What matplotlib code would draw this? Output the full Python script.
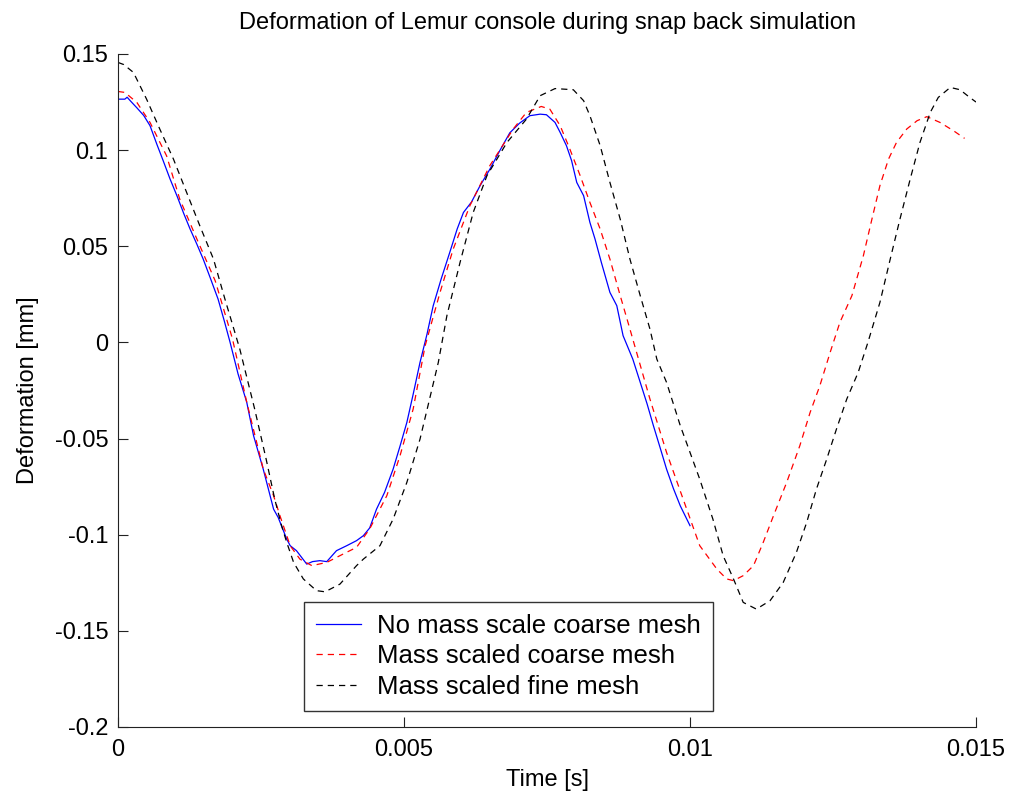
import matplotlib
matplotlib.use("Agg")
import matplotlib.pyplot as plt
from matplotlib.ticker import FixedLocator, FixedFormatter

# Deformation histories (time in s, deformation in mm)
t_nomass = [0.0, 0.00012, 0.00016, 0.00022, 0.00033, 0.00045, 0.00056, 0.00068, 0.00079, 0.00091,
            0.00103, 0.00115, 0.00126, 0.00138, 0.00149, 0.00162, 0.00175, 0.00186, 0.00196,
            0.00210, 0.00225, 0.00237, 0.00254, 0.00272, 0.00280, 0.00295, 0.00301, 0.00312,
            0.00330, 0.00340, 0.00353, 0.00365, 0.00382, 0.00400, 0.00417, 0.00429, 0.00440,
            0.00452, 0.00466, 0.00481, 0.00493, 0.00505, 0.00516, 0.00528, 0.00540, 0.00551,
            0.00565, 0.00580, 0.00593, 0.00604, 0.00618, 0.00633, 0.00650, 0.00668, 0.00685,
            0.00702, 0.00720, 0.00738, 0.00749, 0.00764, 0.00773, 0.00784, 0.00793, 0.00802,
            0.00814, 0.00825, 0.00834, 0.00845, 0.00860, 0.00872, 0.00883, 0.00900, 0.00913,
            0.00925, 0.00936, 0.00948, 0.00959, 0.00971, 0.00983, 0.01000]
v_nomass = [0.1265, 0.1265, 0.1275, 0.1255, 0.1220, 0.1180, 0.1127, 0.1030, 0.0945, 0.0850,
            0.0763, 0.0670, 0.0590, 0.0510, 0.0433, 0.0330, 0.0225, 0.0110, 0.0000,
            -0.0165, -0.0310, -0.0485, -0.0660, -0.0867, -0.0910, -0.1023, -0.1057, -0.1083,
            -0.1153, -0.1140, -0.1135, -0.1140, -0.1083, -0.1057, -0.1031, -0.1005, -0.0965,
            -0.0867, -0.0780, -0.0659, -0.0540, -0.0416, -0.0270, -0.0104, 0.0040, 0.0190,
            0.0330, 0.0468, 0.0590, 0.0676, 0.0730, 0.0815, 0.0900, 0.1000, 0.1090,
            0.1140, 0.1179, 0.1187, 0.1184, 0.1144, 0.1092, 0.1023, 0.0945, 0.0832,
            0.0763, 0.0624, 0.0537, 0.0416, 0.0260, 0.0191, 0.0035, -0.0087, -0.0208,
            -0.0320, -0.0433, -0.0550, -0.0659, -0.0760, -0.0850, -0.0953]

t_coarse = [0.0, 0.00012, 0.00033, 0.00056, 0.00085, 0.00108, 0.00138, 0.00170, 0.00200,
            0.00225, 0.00254, 0.00272, 0.00283, 0.00301, 0.00318, 0.00339, 0.00365, 0.00394,
            0.00417, 0.00440, 0.00470, 0.00493, 0.00516, 0.00537, 0.00563, 0.00586, 0.00615,
            0.00650, 0.00691, 0.00714, 0.00740, 0.00755, 0.00773, 0.00790, 0.00808, 0.00825,
            0.00843, 0.00860, 0.00878, 0.00895, 0.00910, 0.00930, 0.00959, 0.00988, 0.01017,
            0.01047, 0.01064, 0.01076, 0.01093, 0.01111, 0.01128, 0.01146, 0.01169, 0.01192,
            0.01210, 0.01227, 0.01245, 0.01262, 0.01283, 0.01303, 0.01318, 0.01332, 0.01347,
            0.01361, 0.01379, 0.01397, 0.01414, 0.01437, 0.01461, 0.01480]
v_coarse = [0.1305, 0.1300, 0.1248, 0.1144, 0.0970, 0.0745, 0.0537, 0.0320, 0.0020,
            -0.0310, -0.0659, -0.0797, -0.0900, -0.1057, -0.1127, -0.1161, -0.1144, -0.1100,
            -0.1066, -0.0970, -0.0797, -0.0590, -0.0347, -0.0017, 0.0260, 0.0485, 0.0710,
            0.0919, 0.1110, 0.1196, 0.1227, 0.1213, 0.1127, 0.1005, 0.0867, 0.0728,
            0.0589, 0.0433, 0.0243, 0.0069, -0.0087, -0.0295, -0.0572, -0.0815, -0.1057,
            -0.1179, -0.1230, -0.1239, -0.1213, -0.1161, -0.1040, -0.0901, -0.0728, -0.0537,
            -0.0364, -0.0225, -0.0052, 0.0104, 0.0243, 0.0450, 0.0641, 0.0815, 0.0953,
            0.1040, 0.1110, 0.1153, 0.1174, 0.1144, 0.1100, 0.1061]

t_fine = [0.0, 0.00010, 0.00027, 0.00050, 0.00073, 0.00097, 0.00120, 0.00143, 0.00167,
          0.00187, 0.00213, 0.00239, 0.00259, 0.00274, 0.00286, 0.00295, 0.00307, 0.00324,
          0.00347, 0.00362, 0.00388, 0.00417, 0.00429, 0.00458, 0.00481, 0.00505, 0.00528,
          0.00560, 0.00575, 0.00598, 0.00621, 0.00645, 0.00680, 0.00714, 0.00738, 0.00764,
          0.00796, 0.00814, 0.00825, 0.00843, 0.00860, 0.00878, 0.00895, 0.00913, 0.00930,
          0.00942, 0.00959, 0.00983, 0.01017, 0.01040, 0.01058, 0.01076, 0.01093, 0.01116,
          0.01140, 0.01163, 0.01186, 0.01204, 0.01221, 0.01239, 0.01256, 0.01274, 0.01294,
          0.01311, 0.01332, 0.01350, 0.01367, 0.01385, 0.01402, 0.01420, 0.01434, 0.01455,
          0.01472, 0.01489, 0.01500]
v_fine = [0.1456, 0.1445, 0.1404, 0.1265, 0.1110, 0.0953, 0.0780, 0.0607, 0.0433,
          0.0225, -0.0035, -0.0347, -0.0607, -0.0815, -0.0953, -0.1040, -0.1144, -0.1230,
          -0.1291, -0.1297, -0.1257, -0.1161, -0.1127, -0.1057, -0.0919, -0.0728, -0.0503,
          -0.0104, 0.0139, 0.0416, 0.0676, 0.0867, 0.1040, 0.1161, 0.1283, 0.1320,
          0.1314, 0.1257, 0.1179, 0.1023, 0.0832, 0.0641, 0.0433, 0.0243, 0.0069,
          -0.0087, -0.0208, -0.0433, -0.0711, -0.0919, -0.1110, -0.1230, -0.1352, -0.1387,
          -0.1343, -0.1248, -0.1092, -0.0936, -0.0763, -0.0607, -0.0451, -0.0295, -0.0156,
          0.0000, 0.0208, 0.0433, 0.0641, 0.0850, 0.1040, 0.1196, 0.1274, 0.1326,
          0.1314, 0.1274, 0.1250]

series_labels = ["No mass scale coarse mesh", "Mass scaled coarse mesh", "Mass scaled fine mesh"]
x_ticks = [0, 0.005, 0.01, 0.015]
x_tick_labels = ["0", "0.005", "0.01", "0.015"]
y_ticks = [-0.2, -0.15, -0.1, -0.05, 0, 0.05, 0.1, 0.15]
y_tick_labels = ["-0.2", "-0.15", "-0.1", "-0.05", "0", "0.05", "0.1", "0.15"]

plt.rcParams["font.family"] = ["Liberation Sans", "DejaVu Sans"]

fig = plt.figure(figsize=(10.11, 7.96), dpi=100)
ax = fig.add_axes([0.1167, 0.0867, 0.8487, 0.8455])

ax.plot(t_nomass, v_nomass, color="#0000ff", lw=0.9, label=series_labels[0])
ax.plot(t_coarse, v_coarse, color="#ff0000", lw=0.9, dashes=(5, 4), label=series_labels[1])
ax.plot(t_fine, v_fine, color="#000000", lw=0.9, dashes=(5, 4), label=series_labels[2])

ax.set_xlim(0, 0.015)
ax.set_ylim(-0.2, 0.15)
ax.xaxis.set_major_locator(FixedLocator(x_ticks))
ax.xaxis.set_major_formatter(FixedFormatter(x_tick_labels))
ax.yaxis.set_major_locator(FixedLocator(y_ticks))
ax.yaxis.set_major_formatter(FixedFormatter(y_tick_labels))
ax.tick_params(direction="in", length=7, width=0.8, labelsize=17, colors="#222222",
               labelcolor="black")
ax.tick_params(axis="x", pad=8.5)
ax.tick_params(axis="y", pad=7)

for side in ("top", "right"):
    ax.spines[side].set_visible(False)
for side in ("left", "bottom"):
    ax.spines[side].set_color("#222222")
    ax.spines[side].set_linewidth(0.8)

ax.set_title("Deformation of Lemur console during snap back simulation", fontsize=17, pad=18)
ax.set_xlabel("Time [s]", fontsize=17, labelpad=6)
ax.set_ylabel("Deformation [mm]", fontsize=17, labelpad=11)

leg = ax.legend(loc="lower left", bbox_to_anchor=(0.2168, 0.0238), fontsize=18.5, frameon=True,
                fancybox=False, edgecolor="black", handlelength=1.75, handletextpad=0.65,
                labelspacing=0.27, borderpad=0.45, borderaxespad=0)
leg.get_frame().set_linewidth(1.0)

fig.savefig("out.png", dpi=100)
